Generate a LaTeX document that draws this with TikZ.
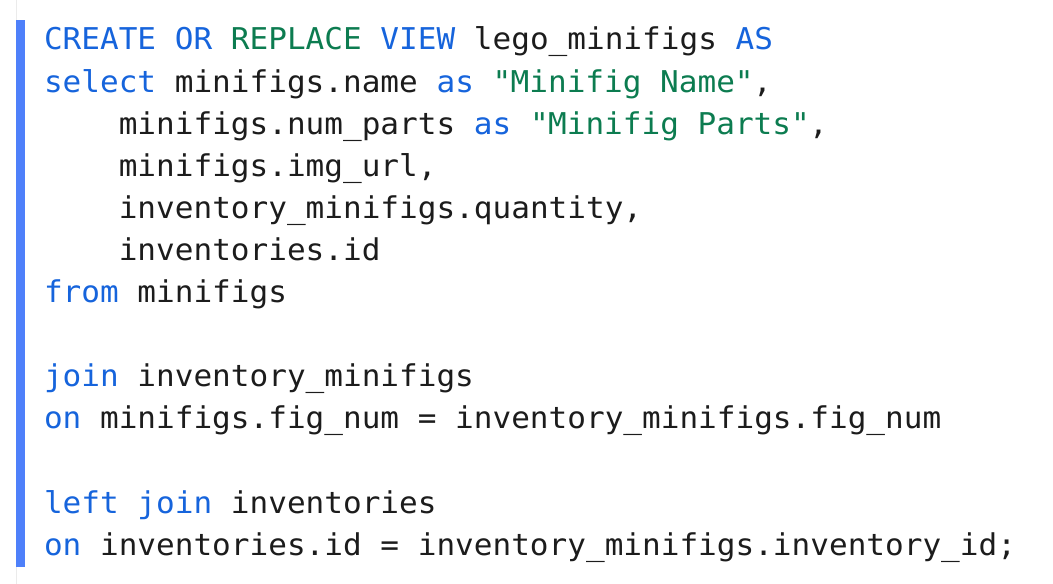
\documentclass[tikz,border=0pt]{standalone}
\usepackage{fontspec}
\newfontfamily\codefont[FakeStretch=1.035]{DejaVu Sans Mono}
\definecolor{kwcol}{RGB}{22,100,220}
\definecolor{strcol}{RGB}{12,124,80}
\definecolor{txcol}{RGB}{28,28,28}
\definecolor{barcol}{RGB}{78,128,250}
\newcommand\kwd[1]{\textcolor{kwcol}{#1}}
\newcommand\strg[1]{\textcolor{strcol}{#1}}
\newcommand\qq{\textquotedbl}
\begin{document}
\begin{tikzpicture}[x=0.75pt,y=-0.75pt,
  codeline/.style={anchor=base west, inner sep=0pt, outer sep=0pt,
    font=\codefont\fontsize{22.5pt}{27pt}\selectfont, text=txcol}]
\fill[white] (0,0) rectangle (1053,584);
\useasboundingbox (0,0) rectangle (1053,584);
\draw[black!8, line width=0.75pt] (16.5,0) -- (16.5,584);
\fill[barcol] (16,20) rectangle (24.5,566.5);
\node[codeline] (l0) at (44,50) {\kwd{CREATE} \kwd{OR} \strg{REPLACE} \kwd{VIEW} lego\_minifigs \kwd{AS}};
\node[codeline] (l1) at (44,92.1) {\kwd{select} minifigs.name \kwd{as} \strg{\qq Minifig Name\qq},};
\node[codeline] (l2) at (118.8,134.2) {minifigs.num\_parts \kwd{as} \strg{\qq Minifig Parts\qq},};
\node[codeline] (l3) at (118.8,176.3) {minifigs.img\_url,};
\node[codeline] (l4) at (118.8,218.4) {inventory\_minifigs.quantity,};
\node[codeline] (l5) at (118.8,260.5) {inventories.id};
\node[codeline] (l6) at (44,302.6) {\kwd{from} minifigs};
\node[codeline] (l8) at (44,386.8) {\kwd{join} inventory\_minifigs};
\node[codeline] (l9) at (44,428.9) {\kwd{on} minifigs.fig\_num = inventory\_minifigs.fig\_num};
\node[codeline] (l11) at (44,513.1) {\kwd{left} \kwd{join} inventories};
\node[codeline] (l12) at (44,555.2) {\kwd{on} inventories.id = inventory\_minifigs.inventory\_id;};
\end{tikzpicture}
\end{document}
